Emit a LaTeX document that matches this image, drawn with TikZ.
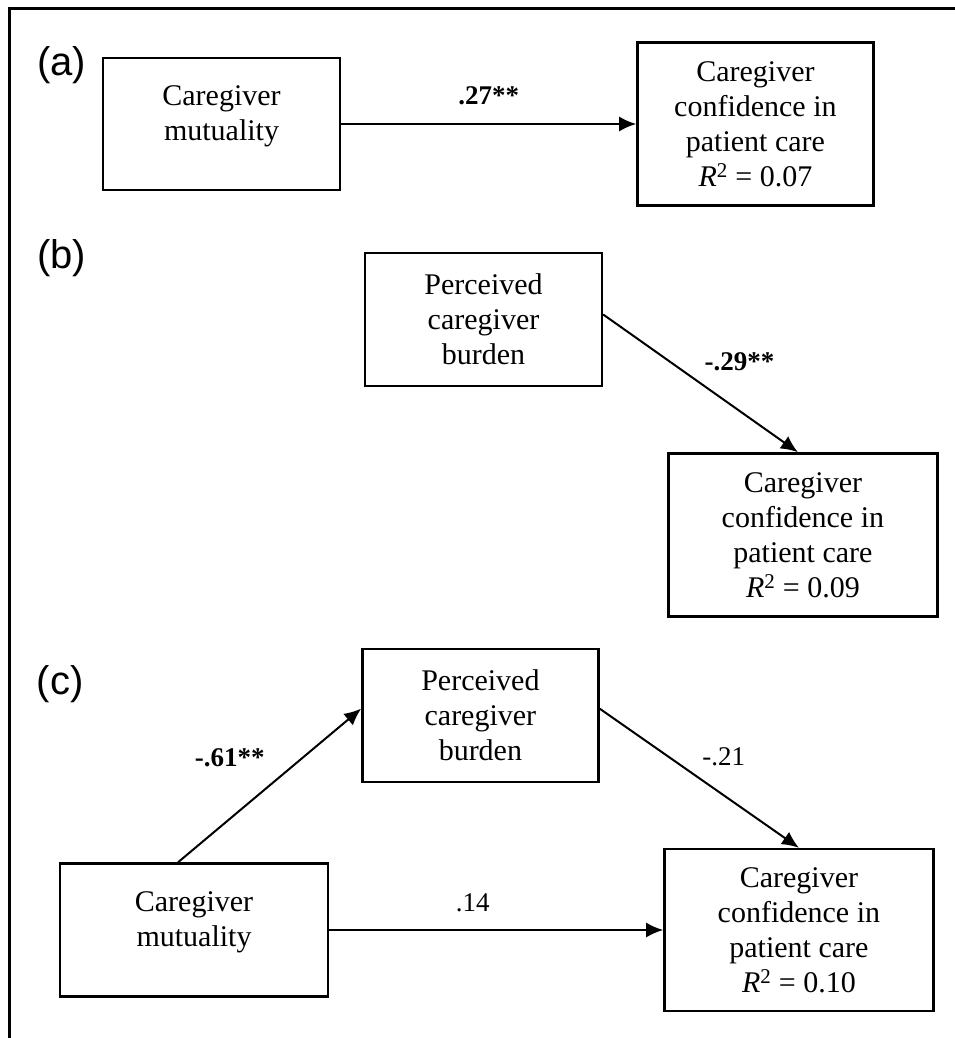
\documentclass[tikz,border=0pt]{standalone}
\usepackage{fontspec}
\setmainfont{Liberation Serif}
\newfontfamily\panelfont{Liberation Sans}
\usepackage{tikz}
\usetikzlibrary{arrows.meta,positioning}

\begin{document}
\begin{tikzpicture}[x=1pt,y=-1pt,>={Latex[length=17pt,width=15pt]}]
	\tikzstyle{varbox} = [draw, rectangle, line width=2.4pt, align=center, inner sep=0pt, font=\fontsize{30}{35}\selectfont]
	\tikzstyle{link} = [->, line width=2pt]
	\tikzstyle{coef} = [inner sep=2pt, font=\fontsize{27}{32}\selectfont]
	\tikzstyle{coefsig} = [coef, font=\fontsize{27}{32}\selectfont\bfseries]
	\tikzstyle{panel} = [inner sep=0pt, font=\panelfont\fontsize{40}{48}\selectfont]

	\useasboundingbox (0,0) rectangle (955,1038);
	\draw [line width=3pt] (955,9) -- (9,9) -- (9,1038);

	% (a)
	\node [panel] (lbla) at (61.5,65) {(a)};
	\node [varbox, text depth=22pt, minimum width=237pt, minimum height=132pt] (muta) at (221.5,124) {Caregiver\\mutuality};
	\node [varbox, minimum width=236pt, minimum height=163pt, right=295pt of muta] (confa) {Caregiver\\confidence in\\patient care\\\textit{R}\textsuperscript{2} = 0.07};

	\draw [link] (muta) --node[coefsig, midway, above=16pt]{.27**} (confa);

	% (b)
	\node [panel] (lblb) at (61.5,258) {(b)};
	\node [varbox, minimum width=237pt, minimum height=133pt] (burdb) at (483.5,319.5) {Perceived\\caregiver\\burden};
	\node [varbox, minimum width=269pt, minimum height=163pt, below right=65pt and 64pt of burdb] (confb) {Caregiver\\confidence in\\patient care\\\textit{R}\textsuperscript{2} = 0.09};

	\draw [link] ([yshift=5pt]burdb.east) --node[coefsig, midway, above right=9pt and 1pt]{-.29**} ([xshift=-5pt]confb.north);

	% (c)
	\node [panel] (lblc) at (60,684.5) {(c)};
	\node [varbox, text depth=22pt, minimum width=268pt, minimum height=133pt] (mutc) at (194,930) {Caregiver\\mutuality};
	\node [varbox, minimum width=236pt, minimum height=133pt, above right=79pt and 32pt of mutc] (burdc) {Perceived\\caregiver\\burden};
	\node [varbox, minimum width=269pt, minimum height=162pt, right=334pt of mutc] (confc) {Caregiver\\confidence in\\patient care\\\textit{R}\textsuperscript{2} = 0.10};

	\draw [link] ([xshift=-16pt]mutc.north) --node[coefsig, midway, above left=16pt and 2pt]{-.61**} ([yshift=7pt]burdc.west);
	\draw [link] ([yshift=7pt]burdc.east) --node[coef, midway, above right=9pt and 0pt]{-.21} (confc.north);
	\draw [link] (mutc) --node[coef, pos=.43, above=15pt]{.14} (confc);
\end{tikzpicture}
\end{document}
